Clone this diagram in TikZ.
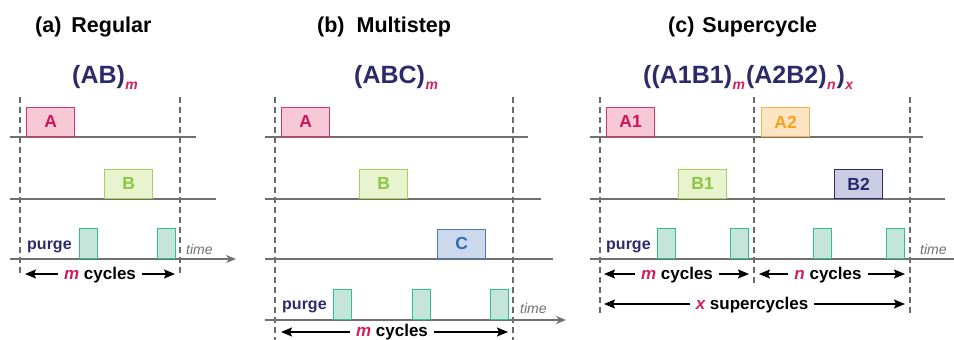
\documentclass[tikz,border=0pt]{standalone}
\usepackage{fontspec}
\setmainfont{Liberation Sans}
\usetikzlibrary{arrows.meta}

\definecolor{navy}{HTML}{2C2A6B}
\definecolor{accent}{HTML}{D31F5A}
\definecolor{axisgray}{HTML}{707070}
\definecolor{guidegray}{HTML}{6A6A6A}
\definecolor{Atext}{HTML}{D0145A}\definecolor{Afill}{HTML}{F7C8D5}\definecolor{Aedge}{HTML}{D6336C}
\definecolor{Btext}{HTML}{8DC63F}\definecolor{Bfill}{HTML}{E8F3CF}\definecolor{Bedge}{HTML}{A6D05A}
\definecolor{Ctext}{HTML}{2F6DB3}\definecolor{Cfill}{HTML}{CAD9EC}\definecolor{Cedge}{HTML}{4A78B5}
\definecolor{Otext}{HTML}{F6A31C}\definecolor{Ofill}{HTML}{FDE5C3}\definecolor{Oedge}{HTML}{F6B24A}
\definecolor{Ntext}{HTML}{2C2A6B}\definecolor{Nfill}{HTML}{CACCE4}\definecolor{Nedge}{HTML}{2C2A6B}
\definecolor{Pfill}{HTML}{C5E5DA}\definecolor{Pedge}{HTML}{2FBF95}

\newcommand{\fsz}[1]{\fontsize{#1}{#1}\selectfont}
\newcommand{\sub}[1]{\hspace{0.5pt}\raisebox{-6pt}{\color{accent}\fsz{14}\bfseries\itshape #1}\hspace{1pt}}

\tikzset{
  axis/.style={draw=axisgray, line width=1.8pt},
  timeaxis/.style={axis, -{Stealth[length=10pt,width=8pt]}},
  guide/.style={draw=guidegray, line width=1.1pt, dash pattern=on 6pt off 4pt},
  pulse/.style={line width=1.2pt, anchor=south west, inner sep=0pt,
                minimum width=48pt, minimum height=29pt,
                font=\bfseries\fsz{17.5}},
  pulseA/.style={pulse, draw=Aedge, fill=Afill, text=Atext},
  pulseB/.style={pulse, draw=Bedge, fill=Bfill, text=Btext},
  pulseC/.style={pulse, draw=Cedge, fill=Cfill, text=Ctext},
  pulseO/.style={pulse, draw=Oedge, fill=Ofill, text=Otext},
  pulseN/.style={pulse, draw=Nedge, fill=Nfill, text=Ntext},
  purgebox/.style={draw=Pedge, fill=Pfill, line width=1.2pt, anchor=south west,
                   minimum width=18pt, minimum height=30pt, inner sep=0pt},
  title/.style={anchor=base west, inner sep=0pt, font=\bfseries\fsz{21.5}},
  formula/.style={anchor=base west, inner sep=0pt, text=navy, font=\bfseries\fsz{25}},
  purgelabel/.style={anchor=base west, inner sep=0pt, text=navy, font=\bfseries\fsz{16}},
  timelabel/.style={anchor=base west, inner sep=0pt, text=axisgray, font=\itshape\fsz{14}},
  spanlabel/.style={anchor=base, inner ysep=0pt, inner xsep=6pt, font=\bfseries\fsz{17}},
  span/.style={-{Stealth[length=11pt,width=9pt,inset=2pt]}, line width=1.5pt, black},
}

\begin{document}
\begin{tikzpicture}[x=1pt, y=-1pt]
\useasboundingbox (0,0) rectangle (954,340);

% ---------------- (a) Regular ----------------
\node[title] (ta) at (35,32) {(a)\hspace{10pt}Regular};
\node[formula] (fa) at (72,83) {(AB)\sub{m}};

\coordinate (ag1t) at (20,97);  \coordinate (ag1b) at (20,277);
\coordinate (ag2t) at (180,97); \coordinate (ag2b) at (180,277);
\draw[guide] (ag1t) -- (ag1b);
\draw[guide] (ag2t) -- (ag2b);

\coordinate (al1s) at (10,137); \coordinate (al1e) at (196,137);
\coordinate (al2s) at (10,199); \coordinate (al2e) at (216,199);
\coordinate (al3s) at (10,259); \coordinate (al3e) at (236,259);
\draw[axis] (al1s) -- (al1e);
\draw[axis] (al2s) -- (al2e);
\draw[timeaxis] (al3s) -- (al3e);

\node[pulseA] (aA) at (26,137) {A};
\node[pulseB] (aB) at (104,199) {B};
\node[purgebox] (ap1) at (79,259) {};
\node[purgebox] (ap2) at (157,259) {};
\node[purgelabel] (apl) at (27,249) {purge};
\node[timelabel] (atl) at (186,254) {time};

\coordinate (amL) at (25,274); \coordinate (amR) at (175,274);
\node[spanlabel] (am) at (100,279.5) {\textcolor{accent}{\itshape m} cycles};
\draw[span] (am.west |- amL) -- (amL);
\draw[span] (am.east |- amR) -- (amR);

% ---------------- (b) Multistep ----------------
\node[title] (tb) at (317,32) {(b)\hspace{12pt}Multistep};
\node[formula] (fb) at (354,83) {(ABC)\sub{m}};

\coordinate (bg1t) at (275,97);  \coordinate (bg1b) at (275,340);
\coordinate (bg2t) at (513,97);  \coordinate (bg2b) at (513,340);
\draw[guide] (bg1t) -- (bg1b);
\draw[guide] (bg2t) -- (bg2b);

\coordinate (bl1s) at (265,137); \coordinate (bl1e) at (528,137);
\coordinate (bl2s) at (265,199); \coordinate (bl2e) at (541,199);
\coordinate (bl3s) at (265,259); \coordinate (bl3e) at (553,259);
\coordinate (bl4s) at (265,320); \coordinate (bl4e) at (566,320);
\draw[axis] (bl1s) -- (bl1e);
\draw[axis] (bl2s) -- (bl2e);
\draw[axis] (bl3s) -- (bl3e);
\draw[timeaxis] (bl4s) -- (bl4e);

\node[pulseA] (bA) at (281,137) {A};
\node[pulseB] (bB) at (359,199) {B};
\node[pulseC] (bC) at (437,259) {C};
\node[purgebox] (bp1) at (333,320) {};
\node[purgebox] (bp2) at (412,320) {};
\node[purgebox] (bp3) at (490,320) {};
\node[purgelabel] (bpl) at (282,309) {purge};
\node[timelabel] (btl) at (520,313) {time};

\coordinate (bmL) at (281,332); \coordinate (bmR) at (508,332);
\node[spanlabel] (bm) at (392,336) {\textcolor{accent}{\itshape m} cycles};
\draw[span] (bm.west |- bmL) -- (bmL);
\draw[span] (bm.east |- bmR) -- (bmR);

% ---------------- (c) Supercycle ----------------
\node[title] (tc) at (668,32) {(c)\hspace{8pt}Supercycle};
\node[formula] (fc) at (643,83) {((A1B1)\sub{m}(A2B2)\sub{n})\sub{x}};

\coordinate (cg1t) at (600,97);  \coordinate (cg1b) at (600,313);
\coordinate (cg2t) at (754,97);  \coordinate (cg2b) at (754,283);
\coordinate (cg3t) at (910,97);  \coordinate (cg3b) at (910,313);
\draw[guide] (cg1t) -- (cg1b);
\draw[guide] (cg2t) -- (cg2b);
\draw[guide] (cg3t) -- (cg3b);

\coordinate (cl1s) at (590,137); \coordinate (cl1e) at (923,137);
\coordinate (cl2s) at (590,199); \coordinate (cl2e) at (945,199);
\coordinate (cl3s) at (590,259); \coordinate (cl3e) at (954,259);
\draw[axis] (cl1s) -- (cl1e);
\draw[axis] (cl2s) -- (cl2e);
\draw[axis] (cl3s) -- (cl3e);

\node[pulseA] (cA1) at (606,137) {A1};
\node[pulseO] (cA2) at (761,137) {A2};
\node[pulseB] (cB1) at (678,199) {B1};
\node[pulseN] (cB2) at (834,199) {B2};
\node[purgebox] (cp1) at (657,259) {};
\node[purgebox] (cp2) at (730,259) {};
\node[purgebox] (cp3) at (813,259) {};
\node[purgebox] (cp4) at (886,259) {};
\node[purgelabel] (cpl) at (606,249) {purge};
\node[timelabel] (ctl) at (920,254) {time};

\coordinate (cmL) at (604,274); \coordinate (cmR) at (749,274);
\node[spanlabel] (cm) at (677,279.5) {\textcolor{accent}{\itshape m} cycles};
\draw[span] (cm.west |- cmL) -- (cmL);
\draw[span] (cm.east |- cmR) -- (cmR);

\coordinate (cnL) at (759,274); \coordinate (cnR) at (905,274);
\node[spanlabel] (cn) at (828,279.5) {\textcolor{accent}{\itshape n} cycles};
\draw[span] (cn.west |- cnL) -- (cnL);
\draw[span] (cn.east |- cnR) -- (cnR);

\coordinate (cxL) at (604,304); \coordinate (cxR) at (905,304);
\node[spanlabel] (cx) at (752,309.5) {\textcolor{accent}{\itshape x} supercycles};
\draw[span] (cx.west |- cxL) -- (cxL);
\draw[span] (cx.east |- cxR) -- (cxR);
\end{tikzpicture}
\end{document}
